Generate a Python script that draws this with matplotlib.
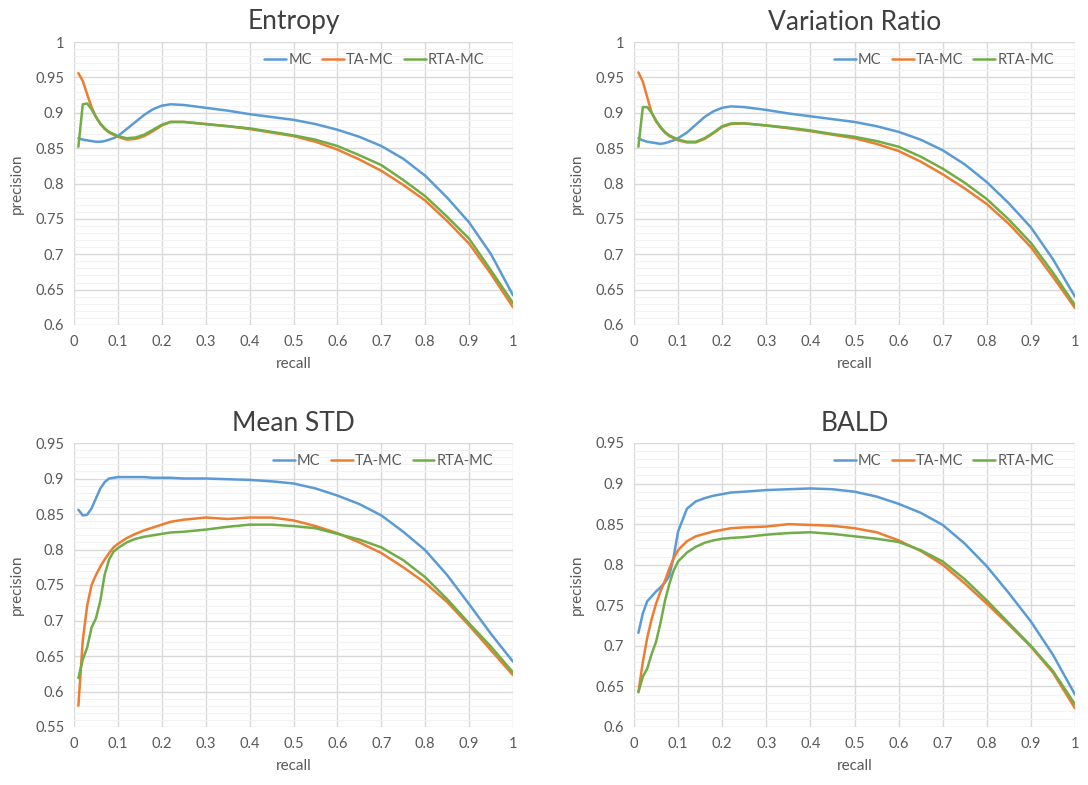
import matplotlib
matplotlib.use("Agg")
from matplotlib import pyplot as plt
from matplotlib.ticker import MultipleLocator, FuncFormatter

plt.rcParams['font.family'] = ['Lato', 'DejaVu Sans']

recall = [0.01, 0.02, 0.03, 0.04, 0.05, 0.06, 0.07, 0.08, 0.09, 0.1,
          0.12, 0.14, 0.16, 0.18, 0.2, 0.22, 0.25, 0.3, 0.35, 0.4,
          0.45, 0.5, 0.55, 0.6, 0.65, 0.7, 0.75, 0.8, 0.85, 0.9, 0.95, 1.0]

series_names = ['MC', 'TA-MC', 'RTA-MC']

# Entropy
entropy_mc = [0.864, 0.862, 0.861, 0.860, 0.859, 0.859, 0.860, 0.862, 0.864, 0.867,
              0.877, 0.887, 0.897, 0.905, 0.910, 0.912, 0.911, 0.907, 0.903, 0.898,
              0.894, 0.890, 0.884, 0.876, 0.866, 0.853, 0.835, 0.811, 0.780, 0.745, 0.700, 0.642]
entropy_ta = [0.956, 0.945, 0.926, 0.908, 0.894, 0.884, 0.877, 0.872, 0.869, 0.866,
              0.862, 0.863, 0.867, 0.874, 0.882, 0.887, 0.887, 0.884, 0.881, 0.877,
              0.872, 0.867, 0.859, 0.848, 0.834, 0.818, 0.798, 0.776, 0.747, 0.715, 0.672, 0.625]
entropy_rta = [0.852, 0.912, 0.913, 0.905, 0.894, 0.885, 0.878, 0.873, 0.870, 0.867,
               0.864, 0.865, 0.869, 0.876, 0.883, 0.887, 0.887, 0.884, 0.881, 0.878,
               0.873, 0.868, 0.862, 0.853, 0.840, 0.826, 0.805, 0.782, 0.753, 0.722, 0.677, 0.631]

# Variation Ratio
vr_mc = [0.864, 0.861, 0.859, 0.858, 0.857, 0.856, 0.857, 0.859, 0.861, 0.864,
         0.872, 0.883, 0.894, 0.902, 0.907, 0.909, 0.908, 0.904, 0.899, 0.895,
         0.891, 0.887, 0.881, 0.873, 0.862, 0.847, 0.827, 0.802, 0.772, 0.738, 0.693, 0.640]
vr_ta = [0.957, 0.944, 0.922, 0.900, 0.888, 0.879, 0.872, 0.867, 0.864, 0.861,
         0.858, 0.858, 0.863, 0.871, 0.880, 0.884, 0.885, 0.882, 0.878, 0.874,
         0.869, 0.864, 0.856, 0.846, 0.831, 0.813, 0.793, 0.771, 0.743, 0.710, 0.668, 0.624]
vr_rta = [0.852, 0.908, 0.908, 0.900, 0.889, 0.880, 0.873, 0.868, 0.865, 0.862,
          0.859, 0.859, 0.864, 0.872, 0.881, 0.885, 0.885, 0.882, 0.879, 0.875,
          0.870, 0.866, 0.860, 0.852, 0.838, 0.821, 0.801, 0.778, 0.749, 0.716, 0.674, 0.628]

# Mean STD
std_mc = [0.856, 0.848, 0.849, 0.858, 0.872, 0.886, 0.895, 0.900, 0.901, 0.902,
          0.902, 0.902, 0.902, 0.901, 0.901, 0.901, 0.900, 0.900, 0.899, 0.898,
          0.896, 0.893, 0.886, 0.876, 0.864, 0.848, 0.825, 0.799, 0.764, 0.723, 0.681, 0.642]
std_ta = [0.580, 0.672, 0.721, 0.750, 0.764, 0.776, 0.786, 0.795, 0.803, 0.808,
          0.816, 0.822, 0.827, 0.831, 0.835, 0.839, 0.842, 0.845, 0.843, 0.845,
          0.845, 0.841, 0.833, 0.823, 0.810, 0.795, 0.775, 0.753, 0.726, 0.693, 0.658, 0.623]
std_rta = [0.619, 0.645, 0.662, 0.690, 0.703, 0.728, 0.765, 0.786, 0.797, 0.802,
           0.810, 0.815, 0.818, 0.820, 0.822, 0.824, 0.825, 0.828, 0.832, 0.835,
           0.835, 0.833, 0.830, 0.822, 0.814, 0.803, 0.785, 0.761, 0.730, 0.696, 0.663, 0.627]

# BALD
bald_mc = [0.716, 0.740, 0.755, 0.761, 0.767, 0.772, 0.778, 0.786, 0.810, 0.841,
           0.869, 0.878, 0.882, 0.885, 0.887, 0.889, 0.890, 0.892, 0.893, 0.894,
           0.893, 0.890, 0.884, 0.875, 0.864, 0.849, 0.826, 0.798, 0.765, 0.730, 0.689, 0.640]
bald_ta = [0.643, 0.680, 0.710, 0.733, 0.752, 0.767, 0.780, 0.795, 0.808, 0.818,
           0.829, 0.835, 0.838, 0.841, 0.843, 0.845, 0.846, 0.847, 0.850, 0.849,
           0.848, 0.845, 0.840, 0.830, 0.817, 0.800, 0.777, 0.752, 0.726, 0.699, 0.667, 0.623]
bald_rta = [0.643, 0.662, 0.672, 0.690, 0.705, 0.728, 0.755, 0.776, 0.793, 0.804,
            0.815, 0.822, 0.827, 0.830, 0.832, 0.833, 0.834, 0.837, 0.839, 0.840,
            0.838, 0.835, 0.832, 0.828, 0.818, 0.804, 0.782, 0.756, 0.728, 0.700, 0.669, 0.628]

colors = ['#5B9BD5', '#ED7D31', '#70AD47']
text_color = '#595959'

W, H = 1088, 785
fig = plt.figure(figsize=(W / 100, H / 100), dpi=100)


def px_axes(x0, x1, y0, y1):
    # axes box given in pixel coords of the figure (top-left origin)
    return fig.add_axes([x0 / W, 1 - y1 / H, (x1 - x0) / W, (y1 - y0) / H])


def fmt(v, pos):
    return f'{round(v, 2):g}'


def panel(ax, title, data, ylim, leg_x):
    for vals, name, c in zip(data, series_names, colors):
        ax.plot(recall, vals, color=c, lw=1.8, label=name,
                solid_joinstyle='round', solid_capstyle='round')
    ax.set_xlim(0, 1)
    ax.set_ylim(*ylim)
    ax.xaxis.set_major_locator(MultipleLocator(0.1))
    ax.yaxis.set_major_locator(MultipleLocator(0.05))
    ax.yaxis.set_minor_locator(MultipleLocator(0.01))
    ax.xaxis.set_major_formatter(FuncFormatter(fmt))
    ax.yaxis.set_major_formatter(FuncFormatter(fmt))
    ax.grid(which='major', color='#D9D9D9', lw=1.0)
    ax.grid(which='minor', axis='y', color='#F2F2F2', lw=0.8)
    ax.set_axisbelow(True)
    for s in ax.spines.values():
        s.set_visible(False)
    ax.tick_params(which='both', length=0, colors=text_color, labelsize=10.5, pad=7)
    ax.set_title(title, fontsize=19, color='#404040', pad=9)
    ax.set_xlabel('recall', fontsize=11, color=text_color, labelpad=6)
    ax.set_ylabel('precision', fontsize=11, color=text_color, labelpad=8)
    ax.legend(loc='center left', bbox_to_anchor=(leg_x, 0.935), ncol=3, frameon=False,
              fontsize=10.5, handlelength=1.5, handletextpad=0.15, columnspacing=0.7,
              labelcolor=text_color, borderaxespad=0)


ax1 = px_axes(74, 513, 42, 325)
panel(ax1, 'Entropy', [entropy_mc, entropy_ta, entropy_rta], (0.6, 1.0), 0.42)

ax2 = px_axes(634, 1075, 42, 325)
panel(ax2, 'Variation Ratio', [vr_mc, vr_ta, vr_rta], (0.6, 1.0), 0.44)

ax3 = px_axes(74, 513, 443, 727)
panel(ax3, 'Mean STD', [std_mc, std_ta, std_rta], (0.55, 0.95), 0.44)

ax4 = px_axes(634, 1075, 443, 727)
panel(ax4, 'BALD', [bald_mc, bald_ta, bald_rta], (0.6, 0.95), 0.44)

fig.savefig('out.png', dpi=100, facecolor='white')
